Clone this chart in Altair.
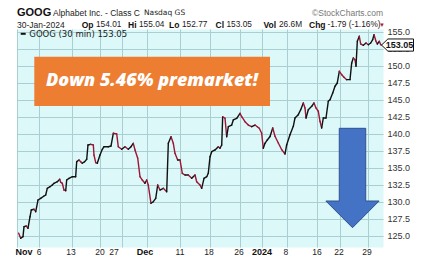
import altair as alt
import pandas as pd

# ---- data (30-min bars, position in trading sessions since 1 Nov) ----
session = [0.28, 0.62, 1.0, 1.17, 1.55, 1.83, 2.17, 2.38, 2.83, 3.12,
           3.5, 3.95, 4.5, 4.78, 5.05, 5.5, 5.88, 6.17, 6.72, 7.12,
           7.28, 7.55, 7.83, 8.12, 8.28, 8.67, 9.22, 9.78, 9.95, 10.33,
           10.62, 10.88, 11.28, 11.62, 11.83, 12.28, 12.72, 12.83, 13.12, 13.38,
           13.83, 14.22, 14.5,
           15.22, 15.67, 16.05, 16.62, 16.88, 17.45, 18.0, 18.55, 19.0, 19.38,
           19.67, 20.12, 20.5, 20.88, 21.33, 21.62, 21.88, 22.33, 22.72, 23.12,
           23.45, 23.83, 24.38, 24.95, 25.22, 25.67, 26.05, 26.33, 26.78, 27.17,
           27.55, 28.0,
           28.55, 29.12, 29.67, 29.95, 30.5, 30.78, 31.17, 31.62, 31.88, 32.17,
           32.45, 33.0, 33.55, 33.83, 34.12, 34.28, 34.67, 34.95, 35.22, 35.78,
           36.05, 36.62, 37.17, 37.45, 38.0, 38.55, 39.12, 39.67, 40.05, 40.38,
           40.78, 41.05, 41.33, 41.72, 42.17,
           42.62, 43.0, 43.55, 44.12, 44.67, 44.95, 45.5, 46.05, 46.33, 46.88,
           47.28, 47.72, 48.0, 48.17, 48.55, 49.12, 49.5, 49.83, 50.22, 50.5,
           50.78, 51.05, 51.5, 51.88, 52.17,
           52.62, 53.0, 53.38, 53.72, 54.12, 54.5, 54.95, 55.5, 55.78, 56.05,
           56.33, 56.5, 56.72, 57.05, 57.28, 57.72, 58.17, 58.55, 58.95, 59.28,
           59.5, 59.83, 60.05, 60.38, 60.62, 60.78]

close = [125.37, 124.63, 124.87, 126.34, 126.44, 126.10, 127.81, 128.79, 128.90, 128.54,
         130.26, 130.51, 130.85, 131.00, 131.98, 132.22, 132.47, 132.72, 132.95, 133.31,
         132.87, 132.72, 131.73, 131.63, 133.20, 133.45, 133.69, 133.69, 135.90, 136.15,
         135.90, 135.66, 135.90, 136.25, 138.35, 138.45, 138.35, 136.88, 135.75, 135.66,
         136.88, 137.72, 138.10,
         138.10, 138.21, 140.07, 139.97, 138.10, 137.72, 138.10, 137.72, 138.10, 138.60,
         137.62, 136.40, 133.69, 133.20, 132.72, 133.20, 132.47, 129.78, 130.01, 130.51,
         132.47, 131.73, 131.98, 131.48, 138.60, 139.57, 138.60, 137.13, 136.15, 136.15,
         134.19, 133.94,
         133.94, 133.45, 133.94, 132.95, 132.47, 131.98, 133.45, 133.69, 134.19, 136.63,
         137.37, 137.62, 138.10, 137.87, 138.35, 142.51, 142.28, 139.57, 141.04, 141.29,
         142.03, 142.28, 143.01, 142.51, 141.78, 141.29, 141.04, 141.29, 141.04, 140.81,
         140.07, 137.87, 138.60, 139.09, 139.60,
         140.85, 139.63, 138.65, 137.66, 137.03, 138.40, 139.87, 141.10, 142.32, 142.81,
         143.54, 144.53, 143.80, 142.32, 143.54, 144.04, 144.53, 143.80, 143.31, 141.84,
         140.85, 142.32, 142.32, 144.78, 145.01,
         146.00, 146.99, 147.47, 149.19, 148.69, 148.31, 147.96, 147.96, 150.41, 151.15,
         150.90, 149.93, 153.60, 154.34, 153.21, 153.01, 153.35, 153.10, 153.35, 153.84,
         154.57, 153.60, 153.21, 153.60, 153.10, 153.05]

grid_sessions = [0.0, 3.67, 9.17, 13.83, 17.5, 21.67, 27.17, 32.17, 37.17, 40.83, 45.0, 50.0, 53.83, 58.5]
tick_text = ["Nov", "6", "13", "20", "27", "Dec", "11", "18", "26", "2024", "8", "16", "22", "29"]
tick_pos = [1.17, 3.67, 9.0, 13.83, 16.17, 21.33, 27.17, 32.0, 37.0, 40.83, 44.83, 50.0, 53.67, 58.33]
tick_bold = [True, False, False, False, False, True, False, False, False, True, False, False, False, False]
price_ticks = [125.0, 127.5, 130.0, 132.5, 135.0, 137.5, 140.0, 142.5, 145.0, 147.5, 150.0, 152.5, 155.0]
last_close = 153.05

# ---- layout ----
W, H = 366, 218
GRID = "#A9CFD3"
FONT = "Liberation Sans"
xs = alt.Scale(domain=[0, 61], nice=False, zero=False)
ys = alt.Scale(domain=[123.35, 155.41], nice=False, zero=False)
X_AXIS = alt.Axis(values=grid_sessions, grid=True, gridColor=GRID, gridWidth=1,
                  labels=False, ticks=False, domain=False, title="")
Y_AXIS = alt.Axis(orient="right", values=price_ticks, format=".1f", labelFont=FONT,
                  labelFontSize=9, labelColor="#333333", labelPadding=4, ticks=False,
                  domain=False, grid=True, gridColor=GRID, gridWidth=1, title="")

seg = pd.DataFrame({"x": session[:-1], "x2": session[1:], "y": close[:-1], "y2": close[1:]})

line = alt.Chart(seg).mark_rule(strokeWidth=1.4, strokeCap="round").encode(
    x=alt.X("x:Q", scale=xs, axis=X_AXIS),
    x2="x2:Q",
    y=alt.Y("y:Q", scale=ys, axis=Y_AXIS),
    y2="y2:Q",
    color=alt.condition("datum.y2 >= datum.y", alt.value("#111111"), alt.value("#9E1535")),
)

lab = pd.DataFrame({"x": tick_pos, "t": tick_text, "b": tick_bold})
xlab_reg = alt.Chart(lab).transform_filter("!datum.b").mark_text(
    font=FONT, fontSize=8.5, color="#222222", align="center", baseline="middle").encode(
    x=alt.X("x:Q", scale=xs, axis=X_AXIS), y=alt.value(H + 5), text="t:N")
xlab_bold = alt.Chart(lab).transform_filter("datum.b").mark_text(
    font=FONT, fontSize=9, fontWeight="bold", color="#111111", align="center", baseline="middle").encode(
    x=alt.X("x:Q", scale=xs, axis=X_AXIS), y=alt.value(H + 5), text="t:N")

ONE = alt.Data(values=[{}])


def label(txt, x, y, size=9, weight="normal", color="#111111", align="left", font=FONT, style="normal"):
    return alt.Chart(ONE).mark_text(text=txt, font=font, fontSize=size, fontWeight=weight, fontStyle=style,
                                    color=color, align=align, baseline="middle").encode(
        x=alt.value(x), y=alt.value(y))


VAL = dict(size=8.3, color="#222222")
BLD = dict(size=8.5, weight="bold")
header = [
    label("GOOG", 0, -16.5, size=11, weight="bold"),
    label("Alphabet Inc. - Class C", 36, -16, size=8.5, color="#222222"),
    label("Nasdaq GS", 127, -16, size=7.5, color="#222222", font="DejaVu Sans"),
    label("©StockCharts.com", W, -16, size=8.5, color="#777777", align="right"),
    label("30-Jan-2024", 0, -4, size=8.5, color="#222222"),
    label("Op", 64.7, -4, **BLD), label("154.01", 79.0, -4, **VAL),
    label("Hi", 111.0, -4, **BLD), label("155.04", 122.0, -4, **VAL),
    label("Lo", 152.0, -4, **BLD), label("152.77", 165.0, -4, **VAL),
    label("Cl", 198.5, -4, **BLD), label("153.05", 209.5, -4, **VAL),
    label("Vol", 246.5, -4, **BLD), label("26.6M", 262.0, -4, **VAL),
    label("Chg", 292.0, -4, **BLD), label("-1.79 (-1.16%)", 310.5, -4, **VAL),
    label("▼", 368, -4.5, size=6, color="#C0152F", align="right"),
    label("GOOG (30 min) 153.05", 12.3, 4.8, size=8.5, color="#222222", font="DejaVu Sans"),
]

legend_dash = alt.Chart(ONE).mark_rule(color="#111111", strokeWidth=2).encode(
    x=alt.value(3.7), x2=alt.value(8.7), y=alt.value(4.8))

box = alt.Chart(ONE).mark_rect(color="#ED7D31").encode(
    x=alt.value(17.3), x2=alt.value(253), y=alt.value(27.7), y2=alt.value(77))
box_text = label("Down 5.46% premarket!", 135, 51.5, size=18, weight=800, color="white",
                 align="center", font="Open Sans", style="italic")

ARROW = "M -0.266 -1 L 0.266 -1 L 0.266 0.463 L 0.536 0.463 L 0 1 L -0.536 0.463 L -0.266 0.463 Z"
arrow = alt.Chart(ONE).mark_point(shape=ARROW, size=9880, filled=True, fill="#4472C4", stroke="#2F528F",
                                  strokeWidth=1, opacity=1).encode(x=alt.value(335.5), y=alt.value(149))

TAG = "M -1 0 L -0.6 -0.38 L 1 -0.38 L 1 0.38 L -0.6 0.38 Z"
tag_df = pd.DataFrame({"y": [last_close], "t": [f"{last_close:.2f}"]})
tag = alt.Chart(tag_df).mark_point(shape=TAG, size=1024, filled=True, fill="white", stroke="#111111",
                                   strokeWidth=1, opacity=1).encode(
    x=alt.value(380.5), y=alt.Y("y:Q", scale=ys, axis=Y_AXIS))
tag_text = alt.Chart(tag_df).mark_text(font=FONT, fontSize=9, fontWeight="bold", color="#111111",
                                       align="center", baseline="middle").encode(
    x=alt.value(382.5), y=alt.Y("y:Q", scale=ys, axis=Y_AXIS), text="t:N")

chart = alt.layer(line, xlab_reg, xlab_bold, legend_dash, box, box_text, arrow, tag, tag_text, *header).properties(
    width=W, height=H, autosize="none",
    padding={"left": 17, "top": 29, "right": 41, "bottom": 29},
    background="white",
).configure_view(fill="#DCF8F8", stroke="transparent")

chart.save("out.html", embed_options={"renderer": "svg", "actions": False})
